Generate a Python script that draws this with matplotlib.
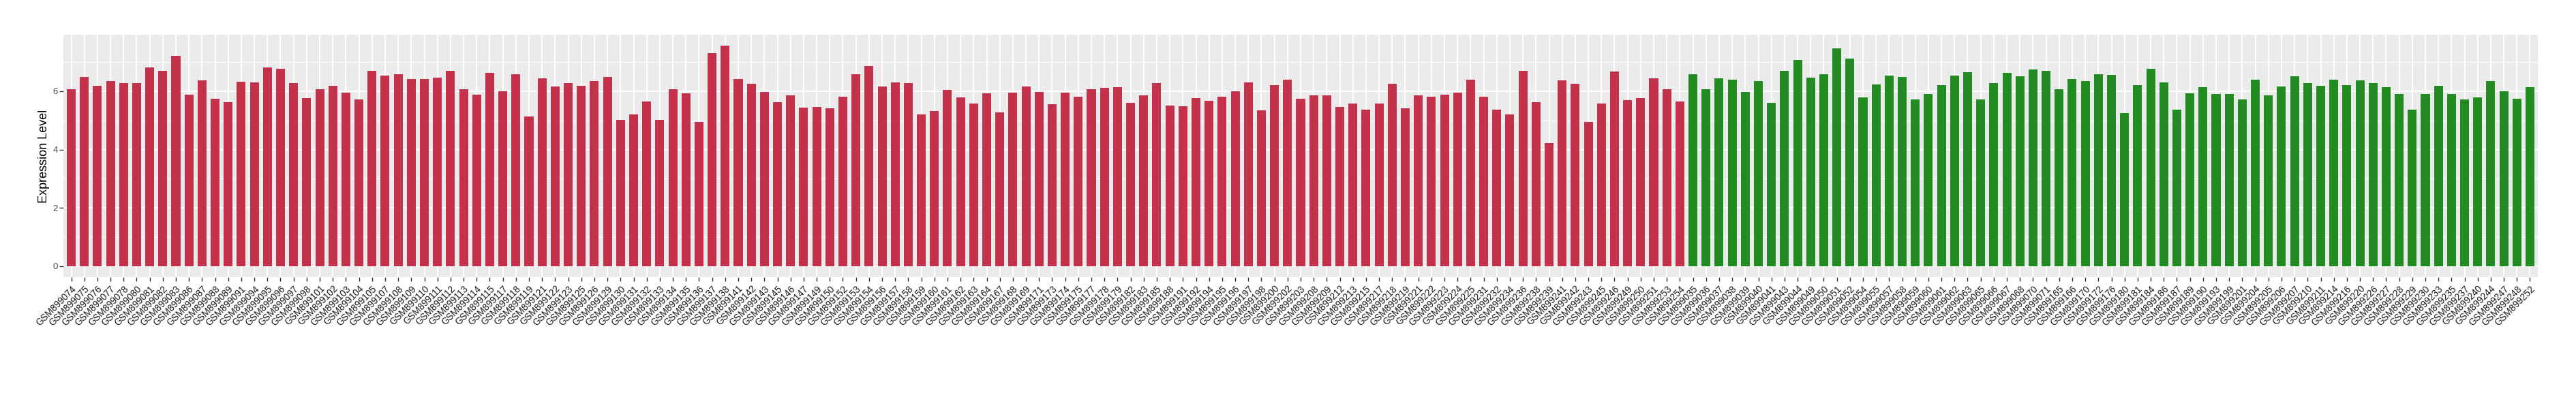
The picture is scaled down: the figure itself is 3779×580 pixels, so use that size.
import matplotlib
matplotlib.use("Agg")
import matplotlib.pyplot as plt
from matplotlib.ticker import MultipleLocator, FixedLocator

plt.rcParams['font.family'] = ['Liberation Sans', 'DejaVu Sans']

# ---- data ----
tumor_ids = [74, 75, 76, 77, 78, 80, 81, 82, 83, 86, 87, 88, 89, 91, 94, 95, 96, 97, 98,
             101, 102, 103, 104, 105, 107, 108, 109, 110, 111, 112, 113, 114, 115, 117,
             118, 119, 121, 122, 123, 125, 126, 129, 130, 131, 132, 133, 134, 135, 136,
             137, 138, 141, 142, 143, 145, 146, 147, 149, 150, 152, 153, 154, 156, 157,
             158, 159, 160, 161, 162, 163, 164, 167, 168, 169, 171, 173, 174, 175, 177,
             178, 179, 182, 183, 185, 188, 191, 192, 194, 195, 196, 197, 198, 200, 202,
             203, 208, 209, 212, 213, 215, 217, 218, 219, 221, 222, 223, 224, 225, 231,
             232, 234, 236, 238, 239, 241, 242, 243, 245, 246, 249, 250, 251, 253, 254]
normal_ids = [35, 36, 37, 38, 39, 40, 41, 43, 44, 49, 50, 51, 52, 54, 55, 57, 58, 59, 60,
              61, 62, 63, 65, 66, 67, 68, 70, 71, 165, 166, 170, 172, 176, 180, 181, 184,
              186, 187, 189, 190, 193, 199, 201, 204, 205, 206, 207, 210, 211, 214, 216,
              220, 226, 227, 228, 229, 230, 233, 235, 237, 240, 244, 247, 248, 252]

tumor_values = [6.08, 6.48, 6.18, 6.35, 6.29, 6.29, 6.82, 6.69, 7.22, 5.89,
                6.37, 5.74, 5.63, 6.33, 6.31, 6.82, 6.77, 6.29, 5.76, 6.08,
                6.18, 5.95, 5.72, 6.69, 6.54, 6.58, 6.42, 6.42, 6.46, 6.69,
                6.08, 5.89, 6.63, 5.99, 6.58, 5.13, 6.44, 6.16, 6.29, 6.18,
                6.35, 6.50, 5.02, 5.21, 5.65, 5.02, 6.06, 5.93, 4.94, 7.30,
                7.56, 6.42, 6.25, 5.97, 5.63, 5.87, 5.44, 5.46, 5.42, 5.82,
                6.58, 6.86, 6.16, 6.31, 6.29, 5.21, 5.32, 6.04, 5.78, 5.59,
                5.93, 5.27, 5.95, 6.16, 5.97, 5.55, 5.95, 5.82, 6.06, 6.12,
                6.14, 5.61, 5.85, 6.27, 5.51, 5.49, 5.76, 5.68, 5.82, 6.01,
                6.31, 5.34, 6.20, 6.39, 5.74, 5.87, 5.85, 5.46, 5.59, 5.36,
                5.59, 6.25, 5.42, 5.85, 5.82, 5.89, 5.95, 6.39, 5.82, 5.38,
                5.21, 6.69, 5.63, 4.22, 6.37, 6.25, 4.94, 5.59, 6.67, 5.70,
                5.76, 6.44, 6.06, 5.65]
normal_values = [6.58, 6.08, 6.44, 6.39, 5.97, 6.35, 5.61, 6.69, 7.07, 6.46,
                 6.58, 7.47, 7.11, 5.78, 6.23, 6.54, 6.48, 5.72, 5.91, 6.20,
                 6.54, 6.65, 5.72, 6.27, 6.63, 6.52, 6.75, 6.69, 6.08, 6.42,
                 6.35, 6.58, 6.56, 5.25, 6.20, 6.77, 6.31, 5.36, 5.93, 6.14,
                 5.91, 5.91, 5.72, 6.39, 5.85, 6.16, 6.52, 6.29, 6.18, 6.39,
                 6.20, 6.37, 6.27, 6.14, 5.91, 5.36, 5.91, 6.18, 5.91, 5.72,
                 5.80, 6.35, 5.99, 5.74, 6.14]

tumor_color = "#C3314A"
normal_color = "#228B22"

labels = [f"GSM899{n:03d}" for n in tumor_ids] + [f"GSM899{n:03d}" for n in normal_ids]
values = tumor_values + normal_values
colors = [tumor_color] * len(tumor_values) + [normal_color] * len(normal_values)
x = list(range(len(values)))

# ---- figure ----
fig = plt.figure(figsize=(37.8, 5.8), dpi=100)
ax = fig.add_axes([93 / 3780, 1 - 407 / 580, (3723 - 93) / 3780, (407 - 51) / 580])

ax.bar(x, values, width=0.68, color=colors, zorder=3)

ymax = max(values)
ax.set_ylim(-0.05 * ymax, 1.05 * ymax)
ax.set_xlim(-0.6, len(values) - 1 + 0.6)

ax.set_facecolor("#EBEBEB")
for s in ax.spines.values():
    s.set_visible(False)

ax.yaxis.set_major_locator(MultipleLocator(2))
ax.yaxis.set_minor_locator(FixedLocator([1, 3, 5, 7]))
ax.set_xticks(x)
ax.set_xticklabels(labels, rotation=45, ha="right", va="top", rotation_mode="anchor",
                   fontsize=9.8, color="#1A1A1A")
ax.tick_params(axis="y", which="major", labelsize=9.5, labelcolor="#4D4D4D",
               color="#333333", length=4, width=1, pad=2)
ax.tick_params(axis="y", which="minor", length=0)
ax.tick_params(axis="x", which="major", color="#333333", length=4, width=1, pad=3)

ax.grid(True, which="major", axis="both", color="white", linewidth=1.4, zorder=0)
ax.grid(True, which="minor", axis="y", color="white", linewidth=0.7, zorder=0)
ax.set_axisbelow(True)

ax.set_ylabel("Expression Level", fontsize=13, color="black", labelpad=3)

fig.savefig("out.png", dpi=100, facecolor="white")
